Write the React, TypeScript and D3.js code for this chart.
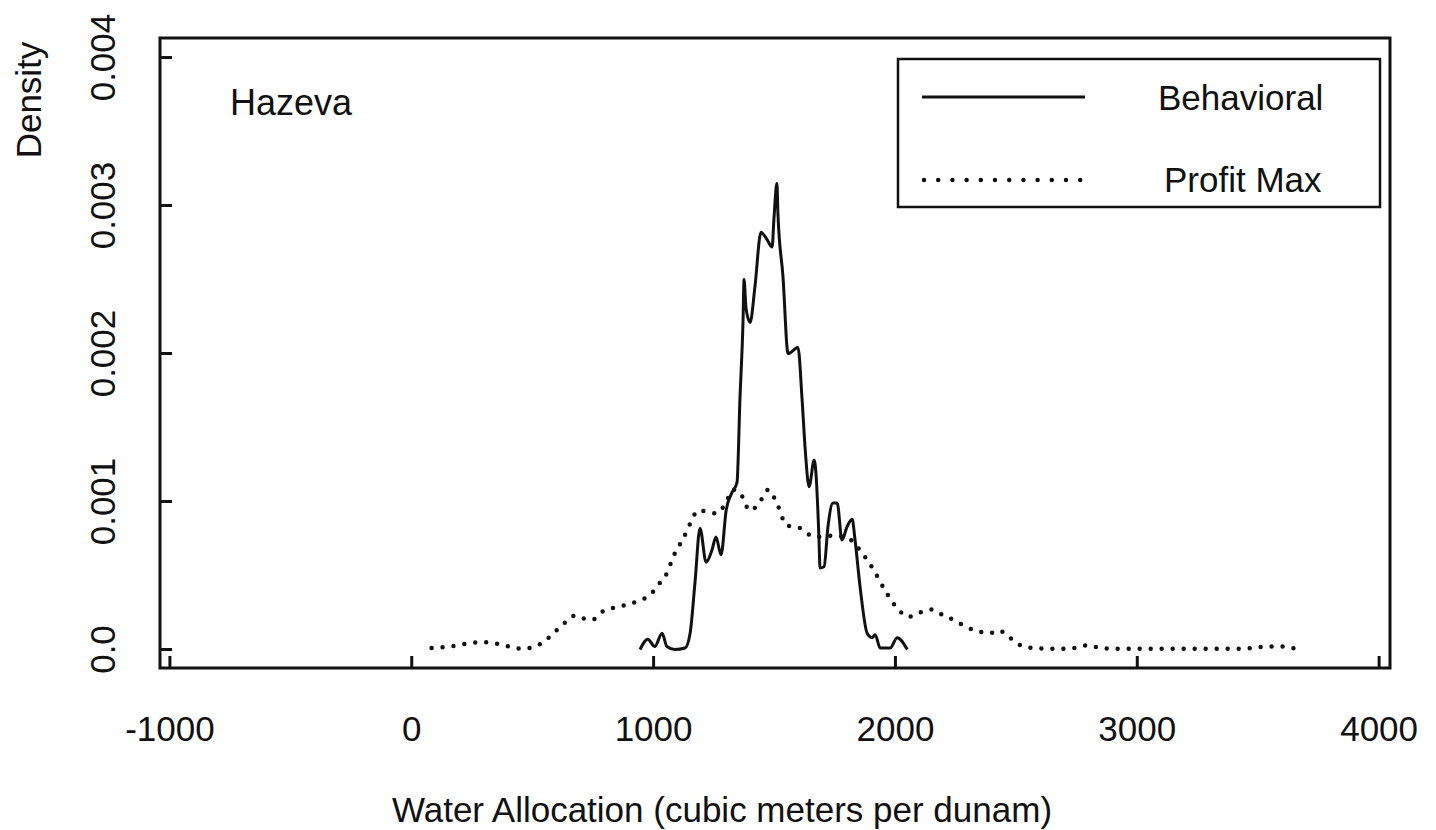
import React from "react"
import * as d3 from "d3"

// Behavioral density (solid)
const behavioralX = [944, 976, 1005, 1035, 1055, 1088, 1130, 1151, 1171, 1192, 1217, 1241, 1258, 1279, 1300, 1324, 1345, 1357, 1370, 1374, 1382, 1399, 1419, 1444, 1469, 1490, 1498, 1510, 1514, 1535, 1556, 1597, 1614, 1627, 1643, 1664, 1684, 1688, 1705, 1721, 1742, 1759, 1779, 1800, 1821, 1833, 1854, 1883, 1904, 1916, 1937, 1978, 2007, 2049]
const behavioralY = [0, 0.00007, 0.00002, 0.00011, 0.00002, 0, 0.00001, 0.00011, 0.00045, 0.00082, 0.00059, 0.00067, 0.00076, 0.00064, 0.00094, 0.00106, 0.00113, 0.00169, 0.00223, 0.0025, 0.00231, 0.00221, 0.00245, 0.00282, 0.00277, 0.00272, 0.00292, 0.00315, 0.00295, 0.00252, 0.002, 0.00204, 0.00169, 0.00135, 0.0011, 0.00128, 0.00074, 0.00055, 0.00056, 0.00083, 0.00099, 0.00099, 0.00074, 0.00083, 0.00088, 0.00074, 0.00042, 0.00011, 0.00008, 0.0001, 0.00001, 0.00001, 0.00008, 0]

// Profit Max density (dotted)
const profitX = [82, 158, 227, 289, 351, 405, 454, 510, 544, 592, 647, 675, 709, 744, 792, 861, 923, 957, 992, 1026, 1047, 1068, 1088, 1123, 1151, 1185, 1226, 1261, 1295, 1330, 1357, 1398, 1433, 1474, 1509, 1550, 1605, 1667, 1743, 1805, 1854, 1909, 1964, 2012, 2053, 2102, 2150, 2198, 2240, 2295, 2350, 2391, 2426, 2460, 2502, 2570, 2667, 2736, 2798, 2846, 2915, 3053, 3260, 3398, 3480, 3536, 3604, 3638, 3672]
const profitY = [0.00001, 0.00002, 0.00004, 0.00005, 0.00004, 0.00002, 0.000005, 0.00002, 0.00005, 0.00012, 0.0002, 0.00023, 0.00021, 0.0002, 0.00026, 0.00029, 0.00032, 0.00034, 0.00038, 0.00045, 0.00049, 0.00057, 0.00065, 0.00075, 0.00085, 0.00094, 0.00093, 0.00092, 0.00098, 0.00108, 0.00106, 0.00094, 0.00098, 0.00108, 0.00099, 0.00084, 0.00082, 0.00076, 0.00077, 0.00075, 0.00067, 0.00054, 0.00038, 0.00027, 0.00022, 0.00025, 0.00027, 0.00023, 0.0002, 0.00015, 0.00012, 0.00011, 0.00013, 0.0001, 0.00004, 0.00001, 0.000005, 0.00001, 0.00003, 0.00001, 0.000005, 0.000005, 0.000005, 0.000005, 0.00001, 0.00002, 0.00002, 0.00001, 0]

const xTicks = [-1000, 0, 1000, 2000, 3000, 4000]
const yTicks = [0, 0.001, 0.002, 0.003, 0.004]
const yTickLabels = ["0.0", "0.001", "0.002", "0.003", "0.004"]
const seriesNames = ["Behavioral", "Profit Max"]

const W = 1436
const H = 830
const left = 160
const right = 1390
const top = 38
const bottom = 668
const font = "'Liberation Sans', Arial, Helvetica, sans-serif"

const App = () => {
  const x = d3.scaleLinear().domain([-1041, 4045]).range([left, right])
  const y = d3.scaleLinear().domain([-0.000125, 0.004132]).range([bottom, top])

  const line = d3
    .line<[number, number]>()
    .x((d) => x(d[0]))
    .y((d) => y(d[1]))
    .curve(d3.curveMonotoneX)

  const behavioral = behavioralX.map((v, i) => [v, behavioralY[i]] as [number, number])
  const profit = profitX.map((v, i) => [v, profitY[i]] as [number, number])

  return (
    <svg
      width={W}
      height={H}
      style={{ position: "absolute", left: 0, top: 0, background: "#fff" }}
      fontFamily={font}
    >
      <rect x={0} y={0} width={W} height={H} fill="#fff" />

      {/* curves */}
      <path d={line(profit) || ""} fill="none" stroke="#111" strokeWidth={4.5} strokeDasharray="0 11" strokeLinecap="round" />
      <path d={line(behavioral) || ""} fill="none" stroke="#111" strokeWidth={3} strokeLinejoin="round" />

      {/* frame */}
      <rect x={left} y={top} width={right - left} height={bottom - top} fill="none" stroke="#111" strokeWidth={3} />

      {/* x ticks */}
      {xTicks.map((t) => (
        <g key={"x" + t}>
          <line x1={x(t)} x2={x(t)} y1={bottom} y2={bottom - 12} stroke="#111" strokeWidth={3} />
          <text x={x(t)} y={741} fontSize={35} textAnchor="middle" fill="#111">
            {String(t)}
          </text>
        </g>
      ))}

      {/* y ticks */}
      {yTicks.map((t, i) => (
        <g key={"y" + t}>
          <line x1={left} x2={left + 12} y1={y(t)} y2={y(t)} stroke="#111" strokeWidth={3} />
          <text
            transform={`translate(115 ${y(t)}) rotate(-90)`}
            fontSize={35}
            textAnchor="middle"
            fill="#111"
          >
            {yTickLabels[i]}
          </text>
        </g>
      ))}

      {/* axis titles */}
      <text x={722} y={822} fontSize={35} textAnchor="middle" fill="#111">
        Water Allocation (cubic meters per dunam)
      </text>
      <text transform="translate(41 100) rotate(-90)" fontSize={35} textAnchor="middle" fill="#111">
        Density
      </text>

      <text x={230} y={115} fontSize={36} fill="#111">
        Hazeva
      </text>

      {/* legend */}
      <rect x={898} y={59} width={482} height={148} fill="#fff" stroke="#111" strokeWidth={2.5} />
      <line x1={922} x2={1085} y1={97} y2={97} stroke="#111" strokeWidth={3} />
      <text x={1158} y={110} fontSize={35} fill="#111">
        {seriesNames[0]}
      </text>
      <line x1={924} x2={1094} y1={180} y2={180} stroke="#111" strokeWidth={4.5} strokeDasharray="0 14.2" strokeLinecap="round" />
      <text x={1164} y={192} fontSize={35} fill="#111">
        {seriesNames[1]}
      </text>
    </svg>
  )
}

export default App
